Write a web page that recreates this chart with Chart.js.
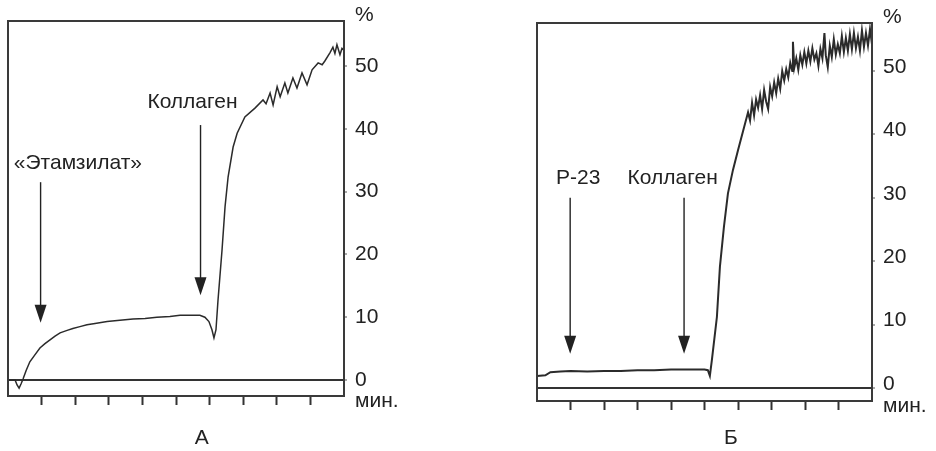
<!DOCTYPE html>
<html>
<head>
<meta charset="utf-8">
<script src="https://cdn.jsdelivr.net/npm/chart.js@4.4.1/dist/chart.umd.min.js"></script>
<style>
  body { margin: 0; background: #fff; width: 936px; height: 451px; overflow: hidden; position: relative; }
  canvas { position: absolute; top: 0; }
  #chartA { left: 0; }
  #chartB { left: 468px; }
</style>
</head>
<body>
<canvas id="chartA" width="468" height="451"></canvas>
<canvas id="chartB" width="468" height="451"></canvas>
<script>
const yTicks = [0, 10, 20, 30, 40, 50];
const xTicks = [1, 2, 3, 4, 5, 6, 7, 8, 9];

// А — «Этамзилат», потом коллаген (время в делениях шкалы, агрегация в %)
const timeA = [0, 0.21, 0.27, 0.33, 0.39, 0.45, 0.54, 0.65, 0.8, 0.95, 1.1, 1.25, 1.4, 1.55, 1.76, 1.93,
  2.14, 2.35, 2.59, 2.95, 3.33, 3.72, 4.08, 4.43, 4.82, 5.12, 5.42, 5.71, 5.86, 5.98, 6.07, 6.13, 6.19,
  6.25, 6.37, 6.46, 6.55, 6.7, 6.82, 7.05, 7.35, 7.59, 7.68, 7.8, 7.89, 8.01, 8.1, 8.24, 8.33, 8.48,
  8.6, 8.75, 8.9, 9.05, 9.23, 9.35, 9.43, 9.58, 9.67, 9.73, 9.79, 9.88, 9.94, 10];
const aggA = [0, 0, -0.8, -1.3, -0.6, 0.2, 1.5, 2.9, 4.0, 5.1, 5.8, 6.4, 7.0, 7.5, 7.9, 8.2,
  8.5, 8.8, 9.0, 9.3, 9.5, 9.7, 9.8, 10.0, 10.1, 10.3, 10.3, 10.3, 10.0, 9.3, 8.0, 6.7, 8.0,
  12.7, 20.7, 27.6, 32.3, 37.1, 39.3, 41.9, 43.3, 44.6, 44.0, 45.7, 43.8, 46.7, 45.1, 47.3, 45.7, 48.1,
  46.5, 48.9, 47.0, 49.4, 50.5, 50.2, 50.8, 52.1, 53.0, 52.0, 53.4, 51.8, 52.8, 52.5];

// Б — Р-23, потом коллаген
const timeB = [0, 0.25, 0.4, 0.7, 1.0, 1.5, 2.0, 2.5, 3.0, 3.5, 4.0, 4.5, 5.0, 5.1, 5.16, 5.22,
  5.37, 5.46, 5.58, 5.7, 5.85, 6.0, 6.15,
  6.30, 6.36, 6.42, 6.48, 6.54, 6.60, 6.66, 6.72, 6.78, 6.84, 6.90, 6.96, 7.02, 7.08, 7.14, 7.20,
  7.26, 7.32, 7.38, 7.44, 7.50, 7.56, 7.62, 7.64, 7.68, 7.74, 7.80, 7.86, 7.92, 7.98, 8.04, 8.10,
  8.16, 8.22, 8.28, 8.34, 8.40, 8.46, 8.52, 8.58, 8.62, 8.68, 8.74, 8.80, 8.86, 8.92, 8.98, 9.04,
  9.10, 9.16, 9.22, 9.28, 9.34, 9.40, 9.46, 9.52, 9.58, 9.64, 9.70, 9.76, 9.82, 9.88, 9.94, 10];
const aggB = [1.9, 2.0, 2.5, 2.6, 2.7, 2.6, 2.7, 2.7, 2.8, 2.8, 2.9, 2.9, 2.9, 2.8, 1.9, 4.4,
  11.2, 19.1, 25.4, 30.7, 34.4, 37.5, 40.5,
  43.5, 42.2, 45.0, 43.0, 45.5, 44.2, 46.2, 44.0, 47.0, 45.2, 44.0, 47.5, 46.0, 48.2, 46.5, 48.8,
  47.2, 50.0, 48.5, 50.3, 49.0, 51.3, 50.0, 54.6, 50.5, 52.0, 50.2, 52.5, 51.0, 53.0, 51.2, 53.2,
  51.5, 53.6, 51.8, 52.8, 50.8, 53.5, 52.0, 56.0, 52.5, 50.6, 54.0, 52.2, 55.0, 52.6, 54.2, 52.8,
  55.5, 53.0, 55.2, 53.2, 55.8, 53.4, 56.0, 53.6, 55.4, 53.2, 56.4, 53.8, 56.0, 54.0, 56.6, 54.2];

// стрелки: момент добавления и подпись
const eventsA = [
  { text: '«Этамзилат»', x: 0.97, top: 31.5, tip: 9.1, textX: 2.08, textY: 34.6 },
  { text: 'Коллаген', x: 5.73, top: 40.6, tip: 13.5, textX: 5.49, textY: 44.3 }
];
const eventsB = [
  { text: 'Р-23', x: 0.99, top: 30, tip: 5.4, textX: 1.23, textY: 33.1 },
  { text: 'Коллаген', x: 4.39, top: 30, tip: 5.4, textX: 4.05, textY: 33.1 }
];

const FONT = '"Liberation Sans", Arial, sans-serif';
const INK = '#222';

// рамка, стрелки, подписи
const decorPlugin = {
  id: 'decor',
  afterDraw(chart, args, opts) {
    const { ctx, chartArea: a, scales } = chart;
    const x = scales.x, y = scales.y;
    ctx.save();
    ctx.strokeStyle = '#3a3a3a';
    ctx.lineWidth = 2;
    ctx.strokeRect(a.left, a.top, a.right - a.left, a.bottom - a.top);

    ctx.fillStyle = INK;
    ctx.strokeStyle = INK;
    opts.events.forEach(ev => {
      const px = x.getPixelForValue(ev.x);
      const y0 = y.getPixelForValue(ev.top);
      const y1 = y.getPixelForValue(ev.tip);
      ctx.lineWidth = 1.4;
      ctx.beginPath();
      ctx.moveTo(px, y0);
      ctx.lineTo(px, y1 - 10);
      ctx.stroke();
      ctx.beginPath();
      ctx.moveTo(px, y1);
      ctx.lineTo(px - 6, y1 - 18);
      ctx.lineTo(px + 6, y1 - 18);
      ctx.closePath();
      ctx.fill();

      ctx.font = '21px ' + FONT;
      ctx.textAlign = 'center';
      ctx.textBaseline = 'middle';
      ctx.fillText(ev.text, x.getPixelForValue(ev.textX), y.getPixelForValue(ev.textY));
    });

    ctx.font = '21px ' + FONT;
    ctx.textAlign = 'left';
    ctx.textBaseline = 'middle';
    ctx.fillText('%', a.right + 11, a.top - 6);
    ctx.fillText('мин.', a.right + 11, a.bottom + 5);

    ctx.textAlign = 'center';
    ctx.fillText(opts.panel, x.getPixelForValue(opts.panelAt), 438);
    ctx.restore();
  }
};

function makeChart(id, times, values, opt) {
  const points = times.map((t, i) => ({ x: t, y: values[i] }));
  return new Chart(document.getElementById(id), {
    type: 'line',
    data: {
      datasets: [{
        data: points,
        borderColor: '#2b2b2b',
        borderWidth: opt.lineWidth,
        pointRadius: 0,
        tension: 0,
        fill: false
      }]
    },
    options: {
      responsive: false,
      animation: false,
      devicePixelRatio: 1,
      layout: { padding: opt.padding },
      plugins: {
        legend: { display: false },
        tooltip: { enabled: false },
        decor: { events: opt.events, panel: opt.panel, panelAt: opt.panelAt }
      },
      scales: {
        x: {
          type: 'linear',
          min: 0,
          max: 10,
          afterBuildTicks: s => { s.ticks = xTicks.map(v => ({ value: v })); },
          afterFit: s => { s.height = 15; },
          border: { display: false },
          grid: {
            drawOnChartArea: false,
            drawTicks: true,
            tickLength: 9,
            tickWidth: 2,
            tickColor: '#333',
            color: '#333'
          },
          ticks: { display: false }
        },
        y: {
          position: 'right',
          min: opt.yMin,
          max: opt.yMax,
          afterBuildTicks: s => { s.ticks = yTicks.map(v => ({ value: v })); },
          afterFit: s => { s.width = 60; },
          border: { display: false },
          grid: {
            drawOnChartArea: true,
            color: c => c.tick && c.tick.value === 0 ? '#333' : 'rgba(0,0,0,0)',
            lineWidth: 2,
            tickLength: 3,
            tickColor: '#555',
            tickWidth: 1
          },
          ticks: {
            color: INK,
            padding: 8,
            labelOffset: opt.labelOffset,
            font: { family: FONT, size: 21 }
          }
        }
      }
    },
    plugins: [decorPlugin]
  });
}

makeChart('chartA', timeA, aggA, {
  padding: { left: 8, top: 21, right: 64, bottom: 40 },
  yMin: -2.55, yMax: 57.17, labelOffset: 0, lineWidth: 1.5,
  events: eventsA, panel: 'А', panelAt: 5.77
});
makeChart('chartB', timeB, aggB, {
  padding: { left: 69, top: 23, right: 4, bottom: 35 },
  yMin: -2.05, yMax: 57.57, labelOffset: -4, lineWidth: 2,
  events: eventsB, panel: 'Б', panelAt: 5.79
});
</script>
</body>
</html>
